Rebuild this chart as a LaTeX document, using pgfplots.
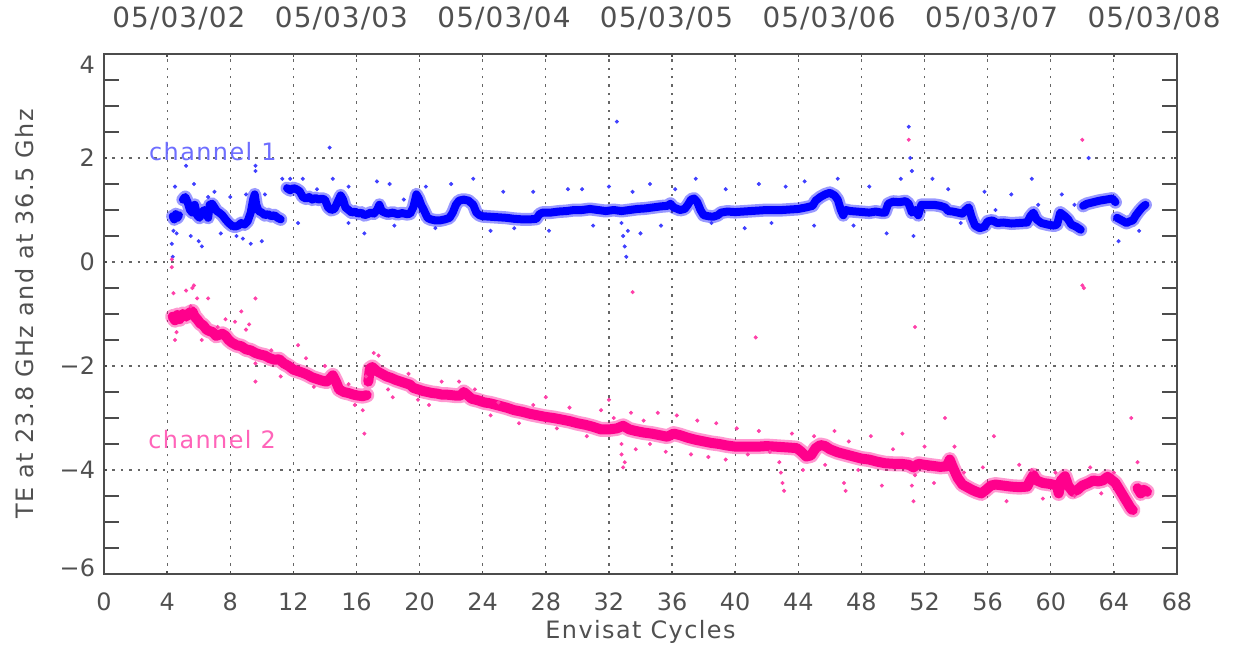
\documentclass[border=0pt]{standalone}
\usepackage{fontspec}
\setmainfont{DejaVu Sans}
\newfontfamily\tickfont{DejaVu Sans}
\newfontfamily\datefont[LetterSpace=4]{DejaVu Sans}
\newfontfamily\labfont[LetterSpace=6]{DejaVu Sans}
\usepackage{pgfplots}
\usepackage{pgfplotstable}
\pgfplotsset{compat=1.18}
\definecolor{ch1}{RGB}{0,0,255}
\definecolor{ch2}{RGB}{255,0,140}
\definecolor{ch1l}{RGB}{110,110,255}
\definecolor{ch2l}{RGB}{255,100,185}
\definecolor{txt}{RGB}{80,80,80}

\pgfplotstableread{
x y
4.35 0.88
4.45 0.82
4.55 0.92
4.65 0.85
4.75 0.90
4.85 nan
5.0 1.20
5.15 1.25
5.3 1.15
5.45 1.00
5.6 0.95
5.75 1.10
5.9 0.90
6.05 0.85
6.2 0.95
6.35 1.00
6.5 0.92
6.6 0.85
6.7 1.10
6.85 1.12
7.0 1.05
7.15 0.98
7.3 0.95
7.5 0.90
7.7 0.82
7.9 0.75
8.1 0.70
8.3 0.68
8.5 0.70
8.7 0.75
8.9 0.72
9.1 0.78
9.3 0.95
9.45 1.20
9.55 1.30
9.65 1.10
9.8 0.98
10.0 0.95
10.2 0.90
10.4 0.92
10.6 0.88
10.8 0.90
11.0 0.85
11.2 0.82
11.4 nan
11.6 1.42
11.8 1.38
12.0 1.42
12.2 1.40
12.4 1.36
12.6 1.25
12.8 1.22
13.0 1.25
13.2 1.20
13.4 1.23
13.6 1.20
13.8 1.22
14.0 1.20
14.2 1.05
14.4 1.00
14.6 1.02
14.8 1.15
15.0 1.28
15.15 1.20
15.3 1.05
15.5 1.00
15.7 0.95
15.9 0.97
16.1 0.93
16.3 0.95
16.5 0.90
16.7 0.92
16.9 0.95
17.1 0.93
17.3 1.00
17.45 1.10
17.6 0.98
17.8 0.95
18.0 0.93
18.3 0.95
18.6 0.92
18.9 0.94
19.2 0.92
19.4 0.93
19.6 1.05
19.8 1.30
19.95 1.22
20.1 1.10
20.3 0.98
20.5 0.85
20.7 0.82
21.0 0.80
21.3 0.80
21.6 0.82
21.9 0.85
22.1 0.95
22.3 1.10
22.5 1.18
22.8 1.20
23.1 1.18
23.4 1.10
23.6 0.95
23.8 0.90
24.0 0.88
24.5 0.87
25.0 0.86
25.5 0.85
26.0 0.83
26.5 0.82
27.0 0.82
27.4 0.83
27.6 0.92
27.8 0.95
28.3 0.95
28.8 0.97
29.3 0.98
29.8 1.00
30.3 1.00
30.8 1.02
31.3 1.00
31.8 0.98
32.3 1.00
32.8 0.98
33.3 1.00
33.8 1.02
34.3 1.03
34.8 1.05
35.3 1.07
35.7 1.08
35.9 1.12
36.1 1.05
36.5 1.00
36.8 1.02
37.0 1.10
37.2 1.20
37.4 1.22
37.6 1.15
37.8 1.00
38.0 0.90
38.3 0.88
38.6 0.87
38.9 0.90
39.1 0.95
39.5 0.97
40.0 0.96
40.5 0.97
41.0 0.98
41.5 0.99
42.0 1.00
42.5 1.00
43.0 1.00
43.5 1.01
44.0 1.02
44.5 1.05
44.9 1.08
45.1 1.18
45.4 1.25
45.7 1.30
46.0 1.33
46.3 1.28
46.5 1.20
46.7 1.00
46.85 0.90
47.0 1.00
47.3 0.98
47.7 0.97
48.1 0.96
48.5 0.95
48.9 0.97
49.3 0.95
49.5 0.95
49.7 1.12
50.0 1.16
50.4 1.15
50.8 1.17
51.0 1.12
51.2 0.95
51.4 1.00
51.6 0.90
51.8 1.10
52.2 1.10
52.6 1.10
53.0 1.08
53.3 1.05
53.5 0.98
53.8 0.97
54.1 0.95
54.4 0.93
54.6 1.00
54.8 1.05
55.0 0.85
55.2 0.70
55.5 0.65
55.8 0.68
56.0 0.78
56.3 0.80
56.6 0.75
57.0 0.76
57.5 0.74
58.0 0.75
58.5 0.76
58.7 0.88
58.9 0.95
59.1 0.82
59.4 0.75
59.8 0.72
60.2 0.70
60.4 0.72
60.6 0.95
60.9 0.88
61.1 0.82
61.3 0.72
61.6 0.68
61.9 0.62
62.0 nan
62.05 1.08
62.3 1.12
62.7 1.15
63.1 1.18
63.5 1.20
63.9 1.22
64.1 1.15
64.15 nan
64.2 0.85
64.5 0.80
64.8 0.75
65.0 0.78
65.2 0.80
65.4 0.90
65.6 0.98
65.8 1.05
66.0 1.10
}\chone

\pgfplotstableread{
x y
4.3 0.35
4.35 0.10
4.4 0.60
4.5 1.45
4.6 0.55
5.2 1.85
5.5 0.50
5.7 1.50
6.0 0.40
6.2 0.30
6.6 1.25
7.0 1.35
7.4 0.55
8.0 1.25
8.4 0.50
8.8 0.45
9.0 1.30
9.3 0.35
9.6 1.75
9.6 1.85
10.0 0.40
10.2 1.30
11.3 1.60
11.8 1.60
12.3 0.75
12.6 1.60
13.5 1.40
14.3 2.20
14.5 1.60
15.5 1.45
15.5 0.75
16.5 0.55
17.3 1.55
18.1 1.50
18.4 0.70
19.0 1.20
20.4 1.45
21.0 0.65
22.0 1.50
23.4 1.60
24.5 0.60
25.3 1.35
26.0 0.65
27.2 1.35
28.2 0.60
29.4 1.40
30.3 1.40
31.0 0.70
32.0 1.45
32.5 2.70
32.8 0.75
32.9 0.50
33.0 0.30
33.1 0.10
33.2 0.60
33.5 1.35
34.0 0.55
34.6 1.50
35.3 0.70
36.2 1.40
37.5 1.60
38.5 0.75
39.4 1.40
40.6 0.65
41.5 1.50
42.3 0.75
43.2 1.45
44.4 1.55
45.0 0.70
46.5 1.60
47.5 0.70
48.5 1.45
49.6 0.55
50.5 1.60
51.0 2.60
51.1 2.00
51.2 1.75
51.3 0.50
52.5 1.60
53.5 1.40
54.3 0.75
55.8 1.35
56.5 1.00
57.5 1.30
58.8 1.60
59.2 1.10
60.7 1.30
61.5 1.10
62.4 2.00
64.3 0.40
65.6 0.60
}\chonept

\pgfplotstableread{
x y
4.35 -1.05
4.5 -1.12
4.65 -1.02
4.8 -1.10
4.9 nan
5.0 -1.00
5.2 -1.05
5.4 -0.98
5.6 -0.95
5.75 -1.05
5.9 -1.10
6.1 -1.18
6.3 -1.22
6.5 -1.30
6.7 -1.33
6.9 -1.35
7.1 -1.42
7.3 -1.40
7.5 -1.38
7.7 -1.42
7.9 -1.50
8.1 -1.55
8.4 -1.60
8.7 -1.62
9.0 -1.68
9.3 -1.70
9.6 -1.75
9.9 -1.78
10.2 -1.80
10.5 -1.85
10.8 -1.88
11.1 -1.87
11.4 -1.95
11.7 -2.00
12.0 -2.07
12.3 -2.10
12.6 -2.13
12.9 -2.17
13.2 -2.22
13.5 -2.25
13.8 -2.28
14.1 -2.30
14.3 -2.25
14.5 -2.18
14.7 -2.30
14.9 -2.45
15.2 -2.50
15.5 -2.52
15.8 -2.55
16.1 -2.57
16.4 -2.58
16.65 -2.56
16.7 nan
16.75 -2.30
16.85 -2.05
17.0 -2.02
17.3 -2.10
17.6 -2.15
17.9 -2.20
18.2 -2.23
18.5 -2.27
18.8 -2.30
19.1 -2.33
19.4 -2.36
19.6 -2.42
19.9 -2.45
20.2 -2.48
20.5 -2.50
20.8 -2.52
21.1 -2.53
21.4 -2.55
21.7 -2.55
22.0 -2.56
22.3 -2.57
22.6 -2.57
22.8 -2.50
23.0 -2.55
23.3 -2.63
23.7 -2.66
24.1 -2.70
24.5 -2.72
25.0 -2.76
25.5 -2.80
26.0 -2.85
26.5 -2.88
27.0 -2.92
27.5 -2.95
28.0 -2.98
28.5 -3.00
29.0 -3.03
29.5 -3.06
30.0 -3.10
30.5 -3.13
31.0 -3.17
31.5 -3.22
32.0 -3.22
32.5 -3.20
32.9 -3.15
33.3 -3.22
33.7 -3.25
34.2 -3.28
34.7 -3.30
35.2 -3.33
35.7 -3.36
36.1 -3.30
36.5 -3.33
37.0 -3.38
37.5 -3.42
38.0 -3.45
38.5 -3.48
39.0 -3.50
39.5 -3.53
40.0 -3.55
40.5 -3.55
41.0 -3.55
41.5 -3.55
42.0 -3.54
42.5 -3.55
43.0 -3.56
43.5 -3.57
43.9 -3.58
44.2 -3.65
44.5 -3.74
44.8 -3.72
45.1 -3.58
45.4 -3.52
45.7 -3.54
46.0 -3.60
46.5 -3.66
47.0 -3.70
47.5 -3.74
48.0 -3.78
48.5 -3.80
49.0 -3.84
49.5 -3.87
50.0 -3.88
50.5 -3.88
51.0 -3.90
51.3 -3.95
51.6 -3.88
52.0 -3.90
52.5 -3.92
53.0 -3.94
53.4 -3.93
53.6 -3.80
53.8 -3.95
54.1 -4.15
54.4 -4.28
54.7 -4.33
55.0 -4.38
55.3 -4.42
55.6 -4.45
55.9 -4.38
56.2 -4.30
56.5 -4.28
57.0 -4.30
57.5 -4.32
58.0 -4.33
58.5 -4.32
58.7 -4.20
58.9 -4.10
59.1 -4.20
59.5 -4.25
60.0 -4.27
60.4 -4.30
60.5 -4.45
60.65 -4.20
60.9 -4.12
61.1 -4.30
61.4 -4.42
61.7 -4.38
62.0 -4.30
62.4 -4.25
62.7 -4.20
63.0 -4.22
63.3 -4.20
63.6 -4.13
63.9 -4.20
64.1 -4.25
64.3 -4.35
64.5 -4.45
64.7 -4.55
64.9 -4.65
65.1 -4.75
65.2 -4.77
65.3 nan
65.5 -4.35
65.7 -4.45
65.9 -4.38
66.1 -4.42
}\chtwo

\pgfplotstableread{
x y
4.3 0.05
4.3 -0.10
4.4 -0.60
4.5 -1.50
4.6 -1.35
5.2 -0.55
5.5 -0.85
5.6 -0.50
5.7 -0.45
5.9 -0.70
6.2 -1.50
6.6 -0.70
7.2 -1.25
7.7 -1.10
8.3 -1.15
8.7 -0.95
9.0 -1.30
9.2 -1.20
9.6 -0.70
9.6 -1.95
9.6 -2.30
10.6 -1.70
11.2 -2.20
12.3 -1.60
12.8 -1.85
13.3 -2.40
14.0 -2.00
15.5 -2.35
15.9 -2.75
16.4 -2.85
16.5 -3.30
16.6 -2.20
17.1 -1.75
17.4 -1.80
18.0 -2.45
18.3 -2.60
19.3 -2.15
19.9 -2.65
20.6 -2.75
21.4 -2.30
22.5 -2.30
23.5 -2.45
24.5 -2.95
25.0 -2.70
26.3 -3.10
27.2 -2.75
28.0 -2.60
28.7 -3.20
29.5 -2.80
30.6 -3.35
31.5 -2.85
32.0 -2.65
32.3 -3.00
32.8 -3.50
32.8 -3.70
32.9 -3.95
33.0 -3.85
33.4 -2.90
33.5 -0.58
33.7 -3.60
34.2 -3.05
34.6 -3.50
35.1 -2.90
35.6 -3.65
36.3 -2.95
37.2 -3.70
37.6 -3.05
38.3 -3.75
38.8 -3.10
39.4 -3.80
40.1 -3.20
40.8 -3.70
41.3 -1.45
41.5 -3.25
42.2 -3.65
42.8 -3.85
42.9 -4.05
43.0 -4.25
43.1 -4.40
43.6 -3.30
44.3 -4.00
45.0 -3.35
45.7 -3.90
46.3 -3.25
46.9 -4.25
47.0 -4.40
47.2 -3.45
47.8 -4.00
48.6 -3.35
49.3 -4.30
50.0 -3.60
50.6 -3.30
51.0 2.35
51.2 -4.30
51.3 -4.60
51.4 -4.10
51.4 -1.25
52.0 -3.55
52.6 -4.25
53.3 -3.00
53.9 -3.55
54.5 -4.05
55.7 -3.95
56.4 -3.35
57.2 -4.60
58.0 -3.90
58.8 -4.00
59.5 -4.55
60.3 -4.05
61.5 -4.50
62.0 2.35
62.0 -0.45
62.1 -0.50
62.5 -3.95
63.2 -4.45
64.0 -4.05
65.1 -3.00
65.5 -3.85
}\chtwopt

\begin{document}
\begin{tikzpicture}
\useasboundingbox (-52bp,-39bp) rectangle (567bp,287bp);
\begin{axis}[
  scale only axis, width=536.5bp, height=260bp,
  at={(0,0)}, anchor=south west,
  xmin=0, xmax=68, ymin=-6, ymax=4,
  clip=true,
  xtick={0,4,...,68},
  xticklabels={0,4,8,12,16,20,24,28,32,36,40,44,48,52,56,60,64,68},
  ytick={-6,-4,...,4},
  yticklabels={\raisebox{-1.4bp}[0pt][0pt]{−6},−4,−2,0,2,\raisebox{-9.9bp}[0pt][0pt]{4}},
  minor ytick={-5.5,-5,-4.5,-3.5,-3,-2.5,-1.5,-1,-0.5,0.5,1,1.5,2.5,3,3.5},
  minor tick length=7.5bp, major tick length=1.5bp,
  tick align=inside, xtick pos=both, ytick pos=both,
  grid=major,
  major grid style={black!60, line width=0.6bp, dash pattern=on 1.2bp off 3bp},
  axis line style={black!70, line width=0.7bp},
  tick style={black!70, line width=0.7bp},
  xticklabel style={font=\tickfont\fontsize{12}{14}\selectfont, text=txt, yshift=-6bp},
  yticklabel style={font=\tickfont\fontsize{12}{14}\selectfont, text=txt, xshift=-1bp},
  unbounded coords=jump,
]
\addplot[ch1, line width=6.5bp, opacity=0.4, line join=round, line cap=round] table {\chone};
\addplot[ch1, line width=4bp, line join=round, line cap=round] table {\chone};
\addplot[only marks, mark=*, mark size=0.8bp, ch1!75, mark options={draw=none}] table {\chonept};
\addplot[ch2, line width=7.5bp, opacity=0.4, line join=round, line cap=round] table {\chtwo};
\addplot[ch2, line width=5bp, line join=round, line cap=round] table {\chtwo};
\addplot[only marks, mark=*, mark size=0.8bp, ch2!75, mark options={draw=none}] table {\chtwopt};
\end{axis}
% labels
\begin{scope}[x=536.5bp/68, y=26bp, shift={(0,156bp)}]
\node[font=\labfont\fontsize{12}{14}\selectfont, text=ch1l] at (6.9,2.12) {channel 1};
\node[font=\labfont\fontsize{12}{14}\selectfont, text=ch2l] at (6.85,-3.42) {channel 2};
\foreach \c/\d in {4.75/02,15.05/03,25.35/04,35.65/05,45.95/06,56.25/07,66.55/08}
  \node[font=\datefont\fontsize{14}{17}\selectfont, text=txt] at (\c,4.69) {05/03/\d};
\end{scope}
\node[font=\labfont\fontsize{12}{14}\selectfont, text=txt] at (268.25bp,-29bp) {Envisat Cycles};
\node[font=\labfont\fontsize{12}{14}\selectfont, text=txt, rotate=90] at (-39.5bp,130bp) {TE at 23.8 GHz and at 36.5 Ghz};
\end{tikzpicture}
\end{document}
